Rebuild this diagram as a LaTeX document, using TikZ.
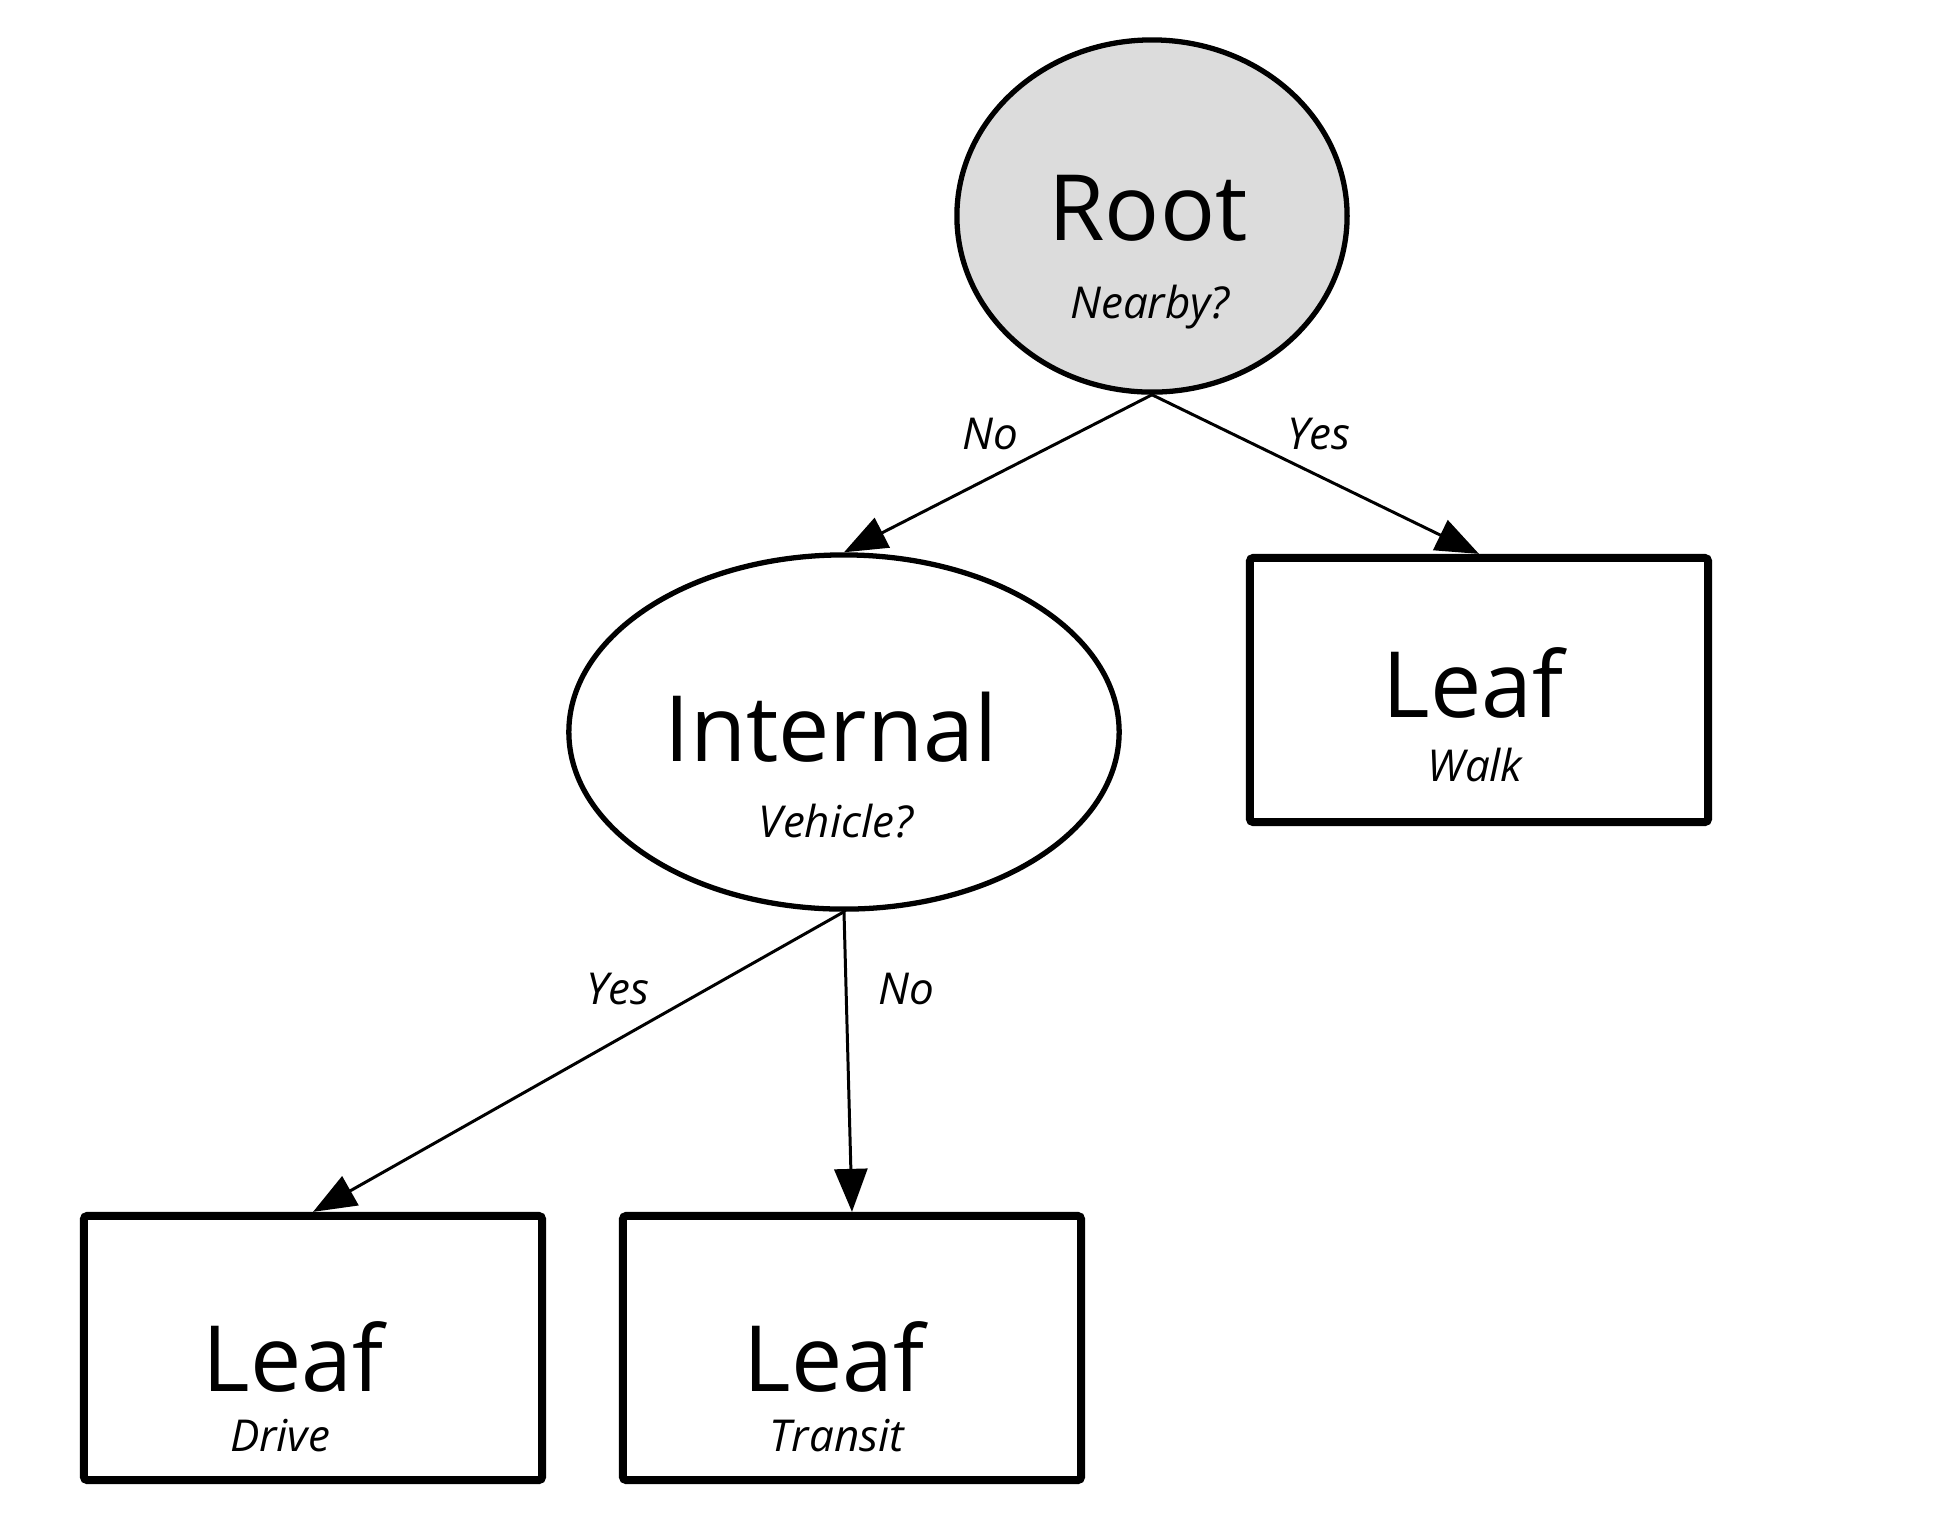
\documentclass[tikz,border=0pt]{standalone}
\usepackage{fontspec}
\setmainfont{Open Sans}
\usepackage{tikz}
\usetikzlibrary{positioning,calc,arrows.meta,shapes.geometric}
\usepackage{xcolor}
\definecolor{rootgray}{HTML}{DCDCDC}

\begin{document}
\begin{tikzpicture}[x=0.01cm,y=-0.01cm,
    test/.style={ellipse,draw,line width=1.5pt,inner sep=0pt},
    leaf/.style={rectangle,draw,line width=2.3pt,rounded corners=1pt,minimum width=4.58cm,minimum height=2.64cm},
    big/.style={anchor=base,inner sep=0pt,font=\fontsize{26}{30}\selectfont},
    small/.style={anchor=base,inner sep=0pt,font=\fontsize{12.5}{15}\selectfont\itshape},
    branch/.style={line width=0.85pt,-{Triangle[length=0.43cm,width=0.33cm]}}]
\useasboundingbox (0,0) rectangle (1944,1538);
\node[test,fill=rootgray,minimum width=3.9cm,minimum height=3.52cm] (root) at (1152,216) {};
\node[test,minimum width=5.5cm,minimum height=3.54cm] (internal) at (844,732) {};
\node[leaf] (walk) at (1479,690) {};
\node[leaf] (drive) at (313,1348) {};
\node[leaf] (transit) at (852,1348) {};
\node[big] (rootname) at (1148,240) {Root};
\node[small] (rootq) at (1150,318) {Nearby?};
\node[big] (internalname) at (831,761) {Internal};
\node[small] (internalq) at (836,837) {Vehicle?};
\node[big] (walkname) at (1473,717) {Leaf};
\node[small] (walkq) at (1475,781) {Walk};
\node[big] (drivename) at (293,1391) {Leaf};
\node[small] (driveq) at (280,1451) {Drive};
\node[big] (transitname) at (834,1391) {Leaf};
\node[small] (transitq) at (837,1451) {Transit};
\draw[branch] (root.south) -- (internal.north);
\draw[branch] (root.south) -- (walk.north);
\draw[branch] (internal.south) -- (drive.north);
\draw[branch] (internal.south) -- (transit.north);
\node[small] (rootno) at (990,449) {No};
\node[small] (rootyes) at (1319,449) {Yes};
\node[small] (internalyes) at (618,1004) {Yes};
\node[small] (internalno) at (906,1004) {No};
\end{tikzpicture}
\end{document}
